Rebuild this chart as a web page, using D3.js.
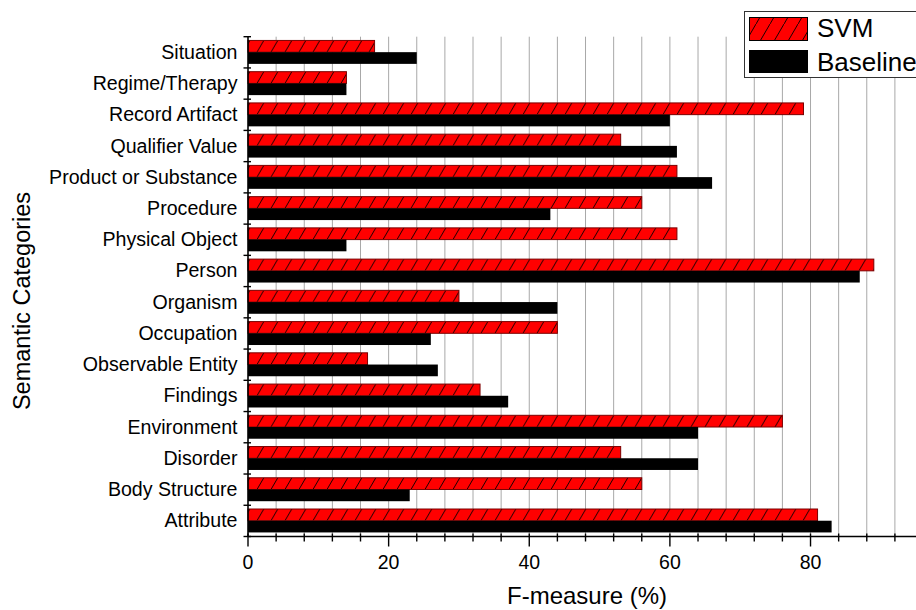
<!DOCTYPE html>
<html>
<head>
<meta charset="utf-8">
<script src="https://cdn.jsdelivr.net/npm/d3@7"></script>
<style>
  html, body { margin: 0; padding: 0; background: #fff; }
  svg { display: block; }
  text { font-family: "Liberation Sans", Arial, sans-serif; fill: #000; }
</style>
</head>
<body>
<svg id="chart" width="916" height="610"></svg>
<script>
const categories = ["Situation","Regime/Therapy","Record Artifact","Qualifier Value","Product or Substance","Procedure","Physical Object","Person","Organism","Occupation","Observable Entity","Findings","Environment","Disorder","Body Structure","Attribute"];
const svmValues = [18,14,79,53,61,56,61,89,30,44,17,33,76,53,56,81];
const baselineValues = [24,14,60,61,66,43,14,87,44,26,27,37,64,64,23,83];
const seriesNames = ["SVM","Baseline"];
const xTicks = [0,20,40,60,80];

(function(){
const svg = d3.select("#chart");
const pLeft = 248, pRight = 916, pTop = 36.7, pBottom = 536.5;

// hatch pattern
const defs = svg.append("defs");
const pat = defs.append("pattern")
  .attr("id","hatch").attr("patternUnits","userSpaceOnUse")
  .attr("width",14).attr("height",24);
pat.append("rect").attr("width",14).attr("height",24).attr("fill","#ff0000");
pat.append("line").attr("x1",-1).attr("y1",24+24/14).attr("x2",15).attr("y2",-24/14)
  .attr("stroke","#000").attr("stroke-width",0.9);

const x = d3.scaleLinear().domain([0,95]).range([pLeft,pRight]);
const y = d3.scaleBand().domain(categories).range([pTop,pBottom]).padding(0);
const bw = y.bandwidth();
const ys = d3.scaleBand().domain(seriesNames).range([bw*0.12, bw*0.87]).padding(0);

// gridlines every 4 units
const gridVals = d3.range(4, 95, 4);
svg.append("g").selectAll("line").data(gridVals).join("line")
  .attr("x1",d=>x(d)).attr("x2",d=>x(d))
  .attr("y1",pTop).attr("y2",pBottom)
  .attr("stroke","#a8a8a8").attr("stroke-width",1);

// bars
const data = categories.map((c,i)=>({cat:c, SVM:svmValues[i], Baseline:baselineValues[i]}));
const groups = svg.append("g").selectAll("g").data(data).join("g")
  .attr("transform",d=>`translate(0,${y(d.cat)})`);
groups.append("rect")
  .attr("x",x(0)).attr("y",ys("SVM"))
  .attr("width",d=>x(d.SVM)-x(0)).attr("height",ys.bandwidth())
  .attr("fill","url(#hatch)").attr("stroke","#7a0000").attr("stroke-width",1);
groups.append("rect")
  .attr("x",x(0)).attr("y",ys("Baseline"))
  .attr("width",d=>x(d.Baseline)-x(0)).attr("height",ys.bandwidth())
  .attr("fill","#000");

// x axis
const ax = svg.append("g");
ax.append("line").attr("x1",pLeft).attr("x2",pRight).attr("y1",pBottom).attr("y2",pBottom)
  .attr("stroke","#000").attr("stroke-width",1.6);
const allTicks = d3.range(0, 95, 4).concat(xTicks).filter((v,i,a)=>a.indexOf(v)===i);
ax.selectAll("line.t").data(allTicks).join("line").attr("class","t")
  .attr("x1",d=>x(d)).attr("x2",d=>x(d))
  .attr("y1",pBottom-3).attr("y2",d=>xTicks.includes(d)?pBottom+10:pBottom+5)
  .attr("stroke","#000").attr("stroke-width",1.4);
ax.selectAll("text").data(xTicks).join("text")
  .attr("x",d=>x(d)).attr("y",569).attr("text-anchor","middle")
  .attr("font-size","19.5px").text(d=>d);

// y axis
const ayg = svg.append("g");
ayg.append("line").attr("x1",pLeft).attr("x2",pLeft).attr("y1",pTop).attr("y2",pBottom)
  .attr("stroke","#000").attr("stroke-width",1.6);
const bounds = categories.map(c=>y(c)).concat([pBottom]);
ayg.selectAll("line.t").data(bounds).join("line").attr("class","t")
  .attr("x1",pLeft-4.5).attr("x2",pLeft+3)
  .attr("y1",d=>d).attr("y2",d=>d)
  .attr("stroke","#000").attr("stroke-width",1.4);
ayg.selectAll("text").data(categories).join("text")
  .attr("x",237.5).attr("y",d=>y(d)+bw/2+6.5).attr("text-anchor","end")
  .attr("font-size","19.6px").text(d=>d);

// axis titles
svg.append("text").attr("x",587).attr("y",604).attr("text-anchor","middle")
  .attr("font-size","24px").text("F-measure (%)");
svg.append("text").attr("transform","translate(30,301) rotate(-90)")
  .attr("text-anchor","middle").attr("font-size","23.5px").text("Semantic Categories");

// legend
const lg = svg.append("g");
lg.append("rect").attr("x",744.5).attr("y",11.5).attr("width",200).attr("height",66)
  .attr("fill","#fff").attr("stroke","#333").attr("stroke-width",1);
lg.append("rect").attr("x",749.5).attr("y",17.5).attr("width",58).attr("height",23)
  .attr("fill","url(#hatch)").attr("stroke","#000").attr("stroke-width",1);
lg.append("rect").attr("x",749).attr("y",50).attr("width",59).attr("height",23)
  .attr("fill","#000");
lg.selectAll("text").data(seriesNames).join("text")
  .attr("x",817).attr("y",(d,i)=>i===0?37.3:70.7)
  .attr("font-size","26px").text(d=>d);
})();
</script>
</body>
</html>
